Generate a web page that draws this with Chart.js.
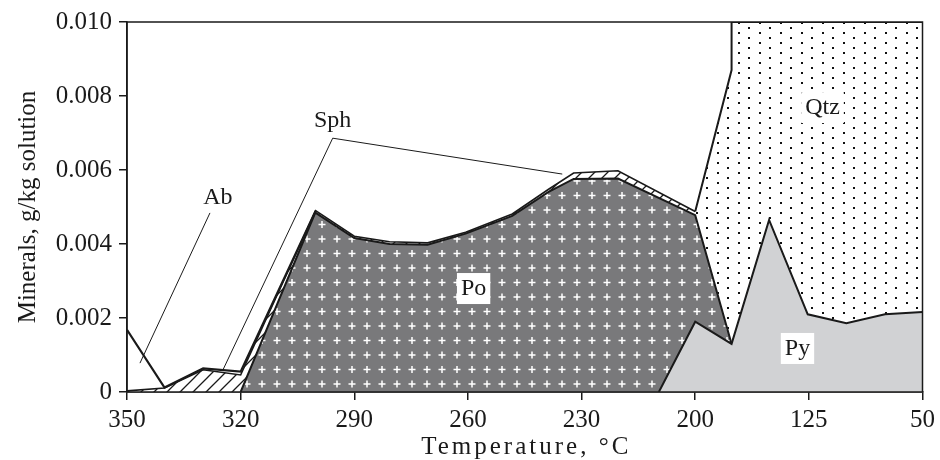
<!DOCTYPE html>
<html>
<head>
<meta charset="utf-8">
<script src="https://cdn.jsdelivr.net/npm/chart.js@4.4.1/dist/chart.umd.min.js"></script>
<style>
    html, body { margin: 0; padding: 0; background: #fff; }
    #wrap { width: 940px; height: 460px; }
</style>
</head>
<body>
<div id="wrap"><canvas id="chart" width="940" height="460"></canvas></div>
<script>
// Temperature steps, evenly spaced along the axis (position 0..7)
const tempLabels = ['350', '320', '290', '260', '230', '200', '125', '50'];
const yTicks = [0, 0.002, 0.004, 0.006, 0.008, 0.010];
const xTitle = 'Temperature, °C';
const yTitle = 'Minerals, g/kg solution';

// Upper boundaries of each mineral field: [axis position, g/kg]
const qtzTop = [[5.0, 0.00488], [5.32, 0.0087], [5.32, 0.0100], [7.0, 0.0100]];
const abTop = [[0, 0.00168], [0.33, 0.00012], [0.67, 0.00064], [1.0, 0.00055], [1.66, 0.0049]];
const sphTop = [[0, 0.00003], [0.33, 0.00011], [0.67, 0.0006], [1.0, 0.00046], [1.66, 0.0049],
    [2.0, 0.00421], [2.31, 0.00406], [2.645, 0.00403], [2.98, 0.00432], [3.39, 0.00481],
    [3.71, 0.00548], [3.93, 0.00592], [4.32, 0.00598], [5.0, 0.00488]];
const poTop = [[1.0, 0], [1.657, 0.00485], [2.0, 0.00416], [2.31, 0.004], [2.645, 0.00398],
    [2.98, 0.00428], [3.39, 0.00476], [3.71, 0.00541], [3.93, 0.00576], [4.32, 0.00577],
    [5.0, 0.00478], [5.32, 0.0013]];
const pyTop = [[4.68, 0], [5.0, 0.0019], [5.32, 0.0013], [5.65, 0.00465], [5.99, 0.0021],
    [6.33, 0.00186], [6.67, 0.0021], [7.0, 0.00216]];

// Field names: [text, axis position, g/kg, boxed]
const fieldLabels = [
    ['Ab', 0.80, 0.00527, false],
    ['Sph', 1.81, 0.00735, false],
    ['Po', 3.05, 0.00281, true],
    ['Py', 5.90, 0.00119, true],
    ['Qtz', 6.12, 0.0077, true]
];
// Leader lines: from -> to, in axis units
const leaders = [
    [[0.73, 0.00484], [0.114, 0.00078]],
    [[1.81, 0.00686], [0.84, 0.00057]],
    [[1.81, 0.00686], [3.83, 0.00589]]
];

const FONT = "'Liberation Serif', 'Times New Roman', serif";
const INK = '#1a1a1a';

const canvas = document.getElementById('chart');
const ctx = canvas.getContext('2d');

function makePattern(w, h, draw) {
    const c = document.createElement('canvas');
    c.width = w;
    c.height = h;
    draw(c.getContext('2d'), w, h);
    return ctx.createPattern(c, 'repeat');
}

// dark grey with white crosses
const poFill = makePattern(15, 29, (g, w, h) => {
    g.fillStyle = '#79797b';
    g.fillRect(0, 0, w, h);
    g.strokeStyle = '#ffffff';
    g.lineWidth = 1.5;
    [[7, 7], [7, 21.5]].forEach(([cx, cy]) => {
        g.beginPath();
        g.moveTo(cx - 3.5, cy); g.lineTo(cx + 3.5, cy);
        g.moveTo(cx, cy - 3.5); g.lineTo(cx, cy + 3.5);
        g.stroke();
    });
});

// diagonal hatch
const sphFill = makePattern(13, 13, (g, s) => {
    g.fillStyle = '#ffffff';
    g.fillRect(0, 0, s, s);
    g.strokeStyle = INK;
    g.lineWidth = 1.3;
    g.beginPath();
    g.moveTo(0, s); g.lineTo(s, 0);
    g.moveTo(-1, 1); g.lineTo(1, -1);
    g.moveTo(s - 1, s + 1); g.lineTo(s + 1, s - 1);
    g.stroke();
});

// staggered dots, rows every 5px
const qtzFill = makePattern(21, 10, (g, w, h) => {
    g.fillStyle = '#ffffff';
    g.fillRect(0, 0, w, h);
    g.fillStyle = '#111';
    g.fillRect(3, 2, 2, 2);
    g.fillRect(13, 7, 2, 2);
});

const toXY = pts => pts.map(([x, y]) => ({ x, y }));

function field(label, pts, fill, order, width) {
    return {
        label,
        data: toXY(pts),
        borderColor: INK,
        borderWidth: width,
        borderJoinStyle: 'miter',
        backgroundColor: fill || 'transparent',
        fill: fill ? 'origin' : false,
        pointRadius: 0,
        tension: 0,
        order
    };
}

// frame, leader lines, field names and the spaced-out x title
const annotate = {
    id: 'annotate',
    afterDatasetsDraw(chart) {
        const { ctx, chartArea: a, scales: { x, y } } = chart;
        ctx.save();
        ctx.strokeStyle = INK;
        ctx.lineWidth = 1;
        leaders.forEach(([p, q]) => {
            ctx.beginPath();
            ctx.moveTo(x.getPixelForValue(p[0]), y.getPixelForValue(p[1]));
            ctx.lineTo(x.getPixelForValue(q[0]), y.getPixelForValue(q[1]));
            ctx.stroke();
        });
        ctx.font = '24px ' + FONT;
        ctx.textAlign = 'center';
        ctx.textBaseline = 'middle';
        fieldLabels.forEach(([text, vx, vy, boxed]) => {
            const px = x.getPixelForValue(vx);
            const py = y.getPixelForValue(vy);
            if (boxed) {
                const w = ctx.measureText(text).width + 8;
                ctx.fillStyle = '#fff';
                ctx.fillRect(px - w / 2, py - 15, w, 31);
            }
            ctx.fillStyle = INK;
            ctx.fillText(text, px, py + 1);
        });
        ctx.lineWidth = 1.5;
        ctx.strokeRect(a.left, a.top, a.right - a.left, a.bottom - a.top);

        ctx.font = '25px ' + FONT;
        ctx.letterSpacing = '3px';
        ctx.textAlign = 'left';
        const tw = ctx.measureText(xTitle).width - 3;
        ctx.fillText(xTitle, (a.left + a.right) / 2 - tw / 2, 447);
        ctx.restore();
    }
};

new Chart(ctx, {
    type: 'line',
    data: {
        datasets: [
            field('Qtz', qtzTop, qtzFill, 5, 2),
            field('Sph', sphTop, sphFill, 3, 1.6),
            field('Po', poTop, poFill, 2, 2),
            field('Py', pyTop, '#d1d2d4', 1, 2),
            field('Ab', abTop, null, 0, 2.2)
        ]
    },
    options: {
        responsive: false,
        animation: false,
        layout: { padding: { top: 22, right: 16, left: 0, bottom: 0 } },
        plugins: {
            legend: { display: false },
            tooltip: { enabled: false }
        },
        scales: {
            x: {
                type: 'linear',
                min: 0,
                max: tempLabels.length - 1,
                afterFit(scale) { scale.height = 68; },
                afterBuildTicks(scale) {
                    scale.ticks = tempLabels.map((_, i) => ({ value: i }));
                },
                ticks: {
                    callback: v => tempLabels[v],
                    color: INK,
                    font: { family: FONT, size: 25 },
                    padding: 5,
                    maxRotation: 0
                },
                grid: { drawOnChartArea: false, tickLength: 8, color: INK, lineWidth: 1.5 },
                border: { color: INK, width: 1.5 },
                title: { display: false }
            },
            y: {
                min: 0,
                max: 0.010,
                afterFit(scale) { scale.width = 127; },
                afterBuildTicks(scale) {
                    scale.ticks = yTicks.map(v => ({ value: v }));
                },
                ticks: {
                    callback: v => (v === 0 ? '0' : v.toFixed(3)),
                    color: INK,
                    font: { family: FONT, size: 25 },
                    padding: 7
                },
                grid: { drawOnChartArea: false, tickLength: 8, color: INK, lineWidth: 1.5 },
                border: { color: INK, width: 1.5 },
                title: {
                    display: true,
                    text: yTitle,
                    color: INK,
                    font: { family: FONT, size: 25 },
                    padding: { top: 13, bottom: 0 }
                }
            }
        }
    },
    plugins: [annotate]
});
</script>
</body>
</html>
